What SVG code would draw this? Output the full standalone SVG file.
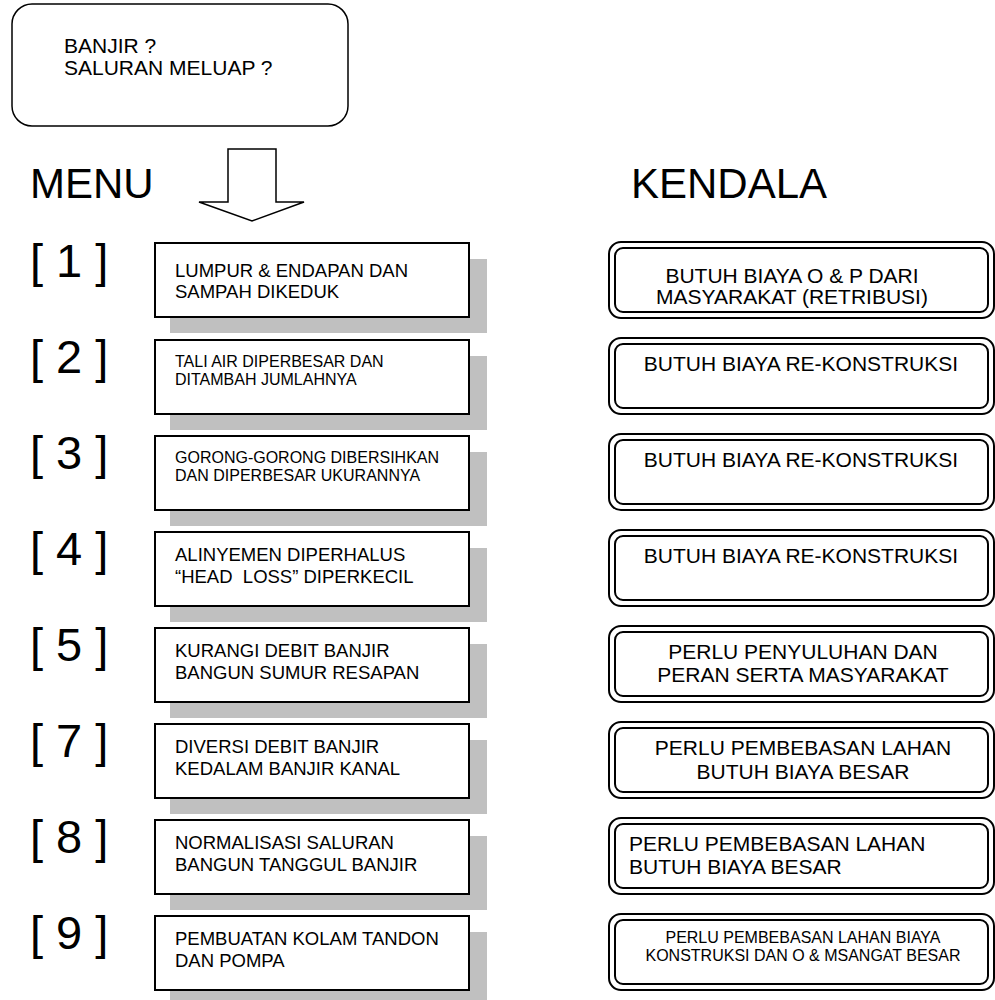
<svg xmlns="http://www.w3.org/2000/svg" width="995" height="1000" viewBox="0 0 995 1000">
<style>
text{font-family:"Liberation Sans",Arial,sans-serif;fill:#000;white-space:pre}
.big{font-size:42px}
.num{font-size:47px}
.m{font-size:18.5px}
.ms{font-size:16px}
.k{font-size:21px}
.ks{font-size:16px}
.c{text-anchor:middle}
.box{fill:#fff;stroke:#000;stroke-width:2}
.sh{fill:#c0c0c0}
.ko{fill:#fff;stroke:#000;stroke-width:2}
.ki{fill:none;stroke:#000;stroke-width:2}
</style>
<rect width="995" height="1000" fill="#fff"/>

<g id="question">
<rect x="12" y="4" width="336" height="122" rx="20" ry="20" fill="#fff" stroke="#000" stroke-width="1.5"/>
<text x="64" y="53" style="font-size:21px">BANJIR ?</text>
<text x="64" y="75" style="font-size:21px">SALURAN MELUAP ?</text>
</g>

<g id="headers">
<text class="big" x="30" y="198">MENU</text>
<text class="big" x="631" y="198">KENDALA</text>
</g>

<g id="connectors">
<polygon points="228,149 276,149 276,202 304,202 252,221 199,202 228,202" fill="#fff" stroke="#000" stroke-width="1.5" stroke-linejoin="miter"/>
</g>

<g id="labels">
<text class="num" x="30" y="277">[ 1 ]</text>
<text class="num" x="30" y="373">[ 2 ]</text>
<text class="num" x="30" y="469">[ 3 ]</text>
<text class="num" x="30" y="565">[ 4 ]</text>
<text class="num" x="30" y="661">[ 5 ]</text>
<text class="num" x="30" y="757">[ 7 ]</text>
<text class="num" x="30" y="853">[ 8 ]</text>
<text class="num" x="30" y="949">[ 9 ]</text>
</g>

<g id="menu1">
<rect class="sh" x="170" y="259" width="317" height="74"/>
<rect class="box" x="155" y="243" width="314" height="74"/>
<text class="m" x="175" y="277">LUMPUR &amp; ENDAPAN DAN</text>
<text class="m" x="175" y="298">SAMPAH DIKEDUK</text>
</g>
<g id="menu2">
<rect class="sh" x="170" y="356" width="317" height="74"/>
<rect class="box" x="155" y="340" width="314" height="74"/>
<text class="ms" x="175" y="367">TALI AIR DIPERBESAR DAN</text>
<text class="ms" x="175" y="385">DITAMBAH JUMLAHNYA</text>
</g>
<g id="menu3">
<rect class="sh" x="170" y="452" width="317" height="74"/>
<rect class="box" x="155" y="436" width="314" height="74"/>
<text class="ms" x="175" y="463">GORONG-GORONG DIBERSIHKAN</text>
<text class="ms" x="175" y="481">DAN DIPERBESAR UKURANNYA</text>
</g>
<g id="menu4">
<rect class="sh" x="170" y="548" width="317" height="74"/>
<rect class="box" x="155" y="532" width="314" height="74"/>
<text class="m" x="175" y="561">ALINYEMEN DIPERHALUS</text>
<text class="m" x="175" y="583">“HEAD  LOSS” DIPERKECIL</text>
</g>
<g id="menu5">
<rect class="sh" x="170" y="644" width="317" height="74"/>
<rect class="box" x="155" y="628" width="314" height="74"/>
<text class="m" x="175" y="657">KURANGI DEBIT BANJIR</text>
<text class="m" x="175" y="679">BANGUN SUMUR RESAPAN</text>
</g>
<g id="menu7">
<rect class="sh" x="170" y="740" width="317" height="74"/>
<rect class="box" x="155" y="724" width="314" height="74"/>
<text class="m" x="175" y="753">DIVERSI DEBIT BANJIR</text>
<text class="m" x="175" y="775">KEDALAM BANJIR KANAL</text>
</g>
<g id="menu8">
<rect class="sh" x="170" y="836" width="317" height="74"/>
<rect class="box" x="155" y="820" width="314" height="74"/>
<text class="m" x="175" y="849">NORMALISASI SALURAN</text>
<text class="m" x="175" y="871">BANGUN TANGGUL BANJIR</text>
</g>
<g id="menu9">
<rect class="sh" x="170" y="932" width="317" height="74"/>
<rect class="box" x="155" y="916" width="314" height="74"/>
<text class="m" x="175" y="945">PEMBUATAN KOLAM TANDON</text>
<text class="m" x="175" y="967">DAN POMPA</text>
</g>

<g id="kendala1">
<rect class="ko" x="609" y="242" width="385" height="76" rx="12"/>
<rect class="ki" x="615" y="248" width="373" height="64" rx="8"/>
<text class="k c" x="792" y="283">BUTUH BIAYA O &amp; P DARI</text>
<text class="k c" x="792" y="304">MASYARAKAT (RETRIBUSI)</text>
</g>
<g id="kendala2">
<rect class="ko" x="609" y="338" width="385" height="76" rx="12"/>
<rect class="ki" x="615" y="344" width="373" height="64" rx="8"/>
<text class="k c" x="801" y="371">BUTUH BIAYA RE-KONSTRUKSI</text>
</g>
<g id="kendala3">
<rect class="ko" x="609" y="434" width="385" height="76" rx="12"/>
<rect class="ki" x="615" y="440" width="373" height="64" rx="8"/>
<text class="k c" x="801" y="467">BUTUH BIAYA RE-KONSTRUKSI</text>
</g>
<g id="kendala4">
<rect class="ko" x="609" y="530" width="385" height="76" rx="12"/>
<rect class="ki" x="615" y="536" width="373" height="64" rx="8"/>
<text class="k c" x="801" y="563">BUTUH BIAYA RE-KONSTRUKSI</text>
</g>
<g id="kendala5">
<rect class="ko" x="609" y="626" width="385" height="76" rx="12"/>
<rect class="ki" x="615" y="632" width="373" height="64" rx="8"/>
<text class="k c" x="803" y="659">PERLU PENYULUHAN DAN</text>
<text class="k c" x="803" y="682">PERAN SERTA MASYARAKAT</text>
</g>
<g id="kendala7">
<rect class="ko" x="609" y="722" width="385" height="76" rx="12"/>
<rect class="ki" x="615" y="728" width="373" height="64" rx="8"/>
<text class="k c" x="803" y="755">PERLU PEMBEBASAN LAHAN</text>
<text class="k c" x="803" y="779">BUTUH BIAYA BESAR</text>
</g>
<g id="kendala8">
<rect class="ko" x="609" y="818" width="385" height="76" rx="12"/>
<rect class="ki" x="615" y="824" width="373" height="64" rx="8"/>
<text class="k" x="629" y="851">PERLU PEMBEBASAN LAHAN</text>
<text class="k" x="629" y="874">BUTUH BIAYA BESAR</text>
</g>
<g id="kendala9">
<rect class="ko" x="609" y="914" width="385" height="76" rx="12"/>
<rect class="ki" x="615" y="920" width="373" height="64" rx="8"/>
<text class="ks c" x="803" y="943">PERLU PEMBEBASAN LAHAN BIAYA</text>
<text class="ks c" x="803" y="961">KONSTRUKSI DAN O &amp; MSANGAT BESAR</text>
</g>
</svg>
